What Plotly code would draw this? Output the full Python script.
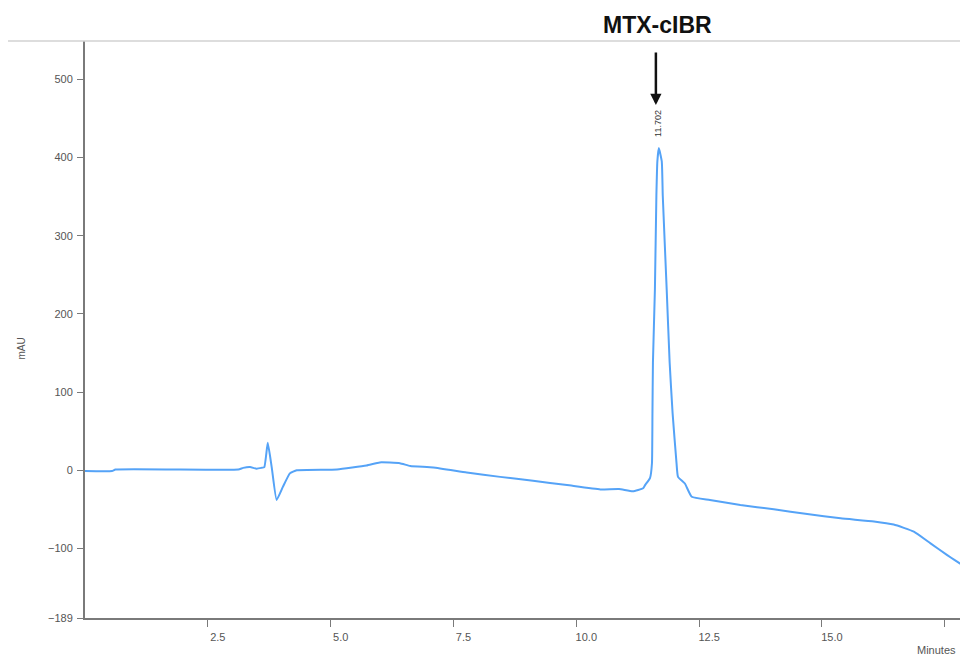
import plotly.graph_objects as go

# Chromatogram trace (time in minutes, signal in mAU)
time_min = [0.0, 0.55, 0.62, 3.12, 3.22, 3.36, 3.49, 3.59, 3.65, 3.72, 3.80, 3.90,
            4.03, 4.17, 4.31, 5.13, 5.73, 6.00, 6.41, 6.62, 7.09, 7.77, 8.45, 9.12,
            9.81, 10.49, 10.87, 11.15, 11.36, 11.40, 11.50, 11.54, 11.55, 11.56, 11.60,
            11.63, 11.65, 11.68, 11.74, 11.76, 11.84, 11.90, 11.96, 12.04, 12.07,
            12.21, 12.35, 12.72, 13.34, 14.02, 14.70, 15.38, 16.06, 16.46, 16.87,
            17.21, 17.55, 17.85]
signal_mau = [-1, -1, 1, 1, 3, 4, 2, 3, 4, 35, 4, -38,
              -21, -4, 0, 1, 6, 10, 9, 5.5, 3.5, -3, -8.5, -13.5,
              -19, -24.5, -24, -27, -23, -19, -10, 9, 73, 138, 231,
              351, 395, 412, 395, 351, 231, 138, 73, 9, -8.5,
              -17, -34, -38, -44.5, -50, -56, -61.5, -65.5, -69.5, -78.5,
              -93.5, -108.5, -121]

y_tickvals = [-189, -100, 0, 100, 200, 300, 400, 500]
x_tickvals = [2.5, 5.0, 7.5, 10.0, 12.5, 15.0, 17.5]
x_ticktext = ["2.5", "5.0", "7.5", "10.0", "12.5", "15.0", ""]

peak_time = 11.68
peak_label = "11.702"
compound = "MTX-cIBR"

fig = go.Figure()
fig.add_trace(go.Scatter(
    x=time_min, y=signal_mau, mode="lines",
    line=dict(color="#55a3f7", width=2, shape="spline", smoothing=0.4),
    hoverinfo="x+y", showlegend=False,
))

axis_color = "#7a7a7a"
tick_font = dict(family="Liberation Sans, Arial, sans-serif", size=11, color="#555555")

fig.update_layout(
    width=960, height=659,
    margin=dict(l=85, r=0, t=41, b=41),
    paper_bgcolor="white", plot_bgcolor="white",
    xaxis=dict(
        range=[0, 17.81], showgrid=False, zeroline=False,
        showline=True, linecolor=axis_color, linewidth=2,
        ticks="outside", ticklen=7, tickwidth=1, tickcolor=axis_color,
        tickvals=x_tickvals, ticktext=x_ticktext,
        tickfont=tick_font, ticklabelshift=10, ticklabelstandoff=1,
    ),
    yaxis=dict(
        range=[-189, 549], showgrid=False, zeroline=False,
        showline=True, linecolor=axis_color, linewidth=2,
        ticks="outside", ticklen=6, tickwidth=1, tickcolor=axis_color,
        tickvals=y_tickvals, tickfont=tick_font, ticklabelstandoff=2,
    ),
    shapes=[dict(type="line", xref="paper", yref="paper",
                 x0=-0.088, x1=1, y0=1, y1=1,
                 line=dict(color="#d2d2d2", width=1.5))],
    annotations=[
        dict(text="<b>" + compound + "</b>", xref="paper", yref="paper",
             x=0.654, y=1.028, xanchor="center", yanchor="middle",
             showarrow=False,
             font=dict(family="Liberation Sans, Arial, sans-serif", size=23, color="#111111")),
        dict(text="", x=11.62, y=467, xref="x", yref="y",
             showarrow=True, arrowhead=2, arrowsize=0.9, arrowwidth=2.5,
             arrowcolor="#111111", ax=0, ay=-54),
        dict(text=peak_label, x=peak_time - 0.02, y=444, xref="x", yref="y",
             textangle=-90, showarrow=False,
             font=dict(family="Liberation Sans, Arial, sans-serif", size=9, color="#333333")),
        dict(text="mAU", xref="paper", yref="paper", x=-0.072, y=0.467,
             xanchor="center", yanchor="middle", textangle=-90, showarrow=False,
             font=dict(family="Liberation Sans, Arial, sans-serif", size=10, color="#555555")),
        dict(text="Minutes", xref="paper", yref="paper", x=0.998, y=-0.055,
             xanchor="right", yanchor="middle", showarrow=False,
             font=dict(family="Liberation Sans, Arial, sans-serif", size=11, color="#555555")),
    ],
)

fig.write_html("out.html")
